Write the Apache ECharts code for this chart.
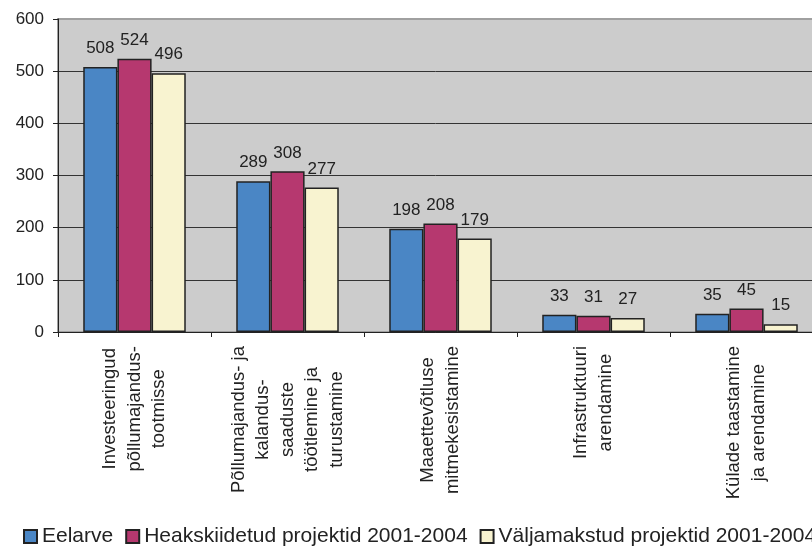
<!DOCTYPE html>
<html>
<head>
<meta charset="utf-8">
<title>Meetmete eelarve ja projektid</title>
<script src="https://cdn.jsdelivr.net/npm/echarts@6/dist/echarts.min.js"></script>
<style>
  html, body { margin: 0; padding: 0; background: #fff; }
  #chart { width: 812px; height: 547px; }
</style>
</head>
<body>
<div id="chart"></div>
<script>
const categories = [
  'Investeeringud\npõllumajandus-\ntootmisse',
  'Põllumajandus- ja\nkalandus-\nsaaduste\ntöötlemine ja\nturustamine',
  'Maaettevõtluse\nmitmekesistamine',
  'Infrastruktuuri\narendamine',
  'Külade taastamine\nja arendamine'
]
const seriesNames = ['Eelarve', 'Heakskiidetud projektid 2001-2004', 'Väljamakstud projektid 2001-2004']
const eelarve = [508, 289, 198, 33, 35]
const heakskiidetud = [524, 308, 208, 31, 45]
const valjamakstud = [496, 277, 179, 27, 15]
const yTicks = [0, 100, 200, 300, 400, 500, 600]

const colors = ['#4a86c5', '#b6386f', '#f8f3d0']
const font = 'Liberation Sans, Arial, sans-serif'

const chart = echarts.init(document.getElementById('chart'))

function barSeries(name, data, idx) {
  return {
    name,
    type: 'bar',
    data,
    barGap: '0%',
    barCategoryGap: '33%',
    itemStyle: {
      color: colors[idx],
      borderColor: '#222',
      borderWidth: 1.5,
    },
    label: {
      show: true,
      position: 'top',
      distance: 10,
      color: '#222',
      fontFamily: font,
      fontSize: 17,
    },
  }
}

chart.setOption({
  animation: false,
  // plot runs past the right edge of the picture (the original is cropped)
  grid: {
    left: 58,
    width: 765,
    top: 19,
    bottom: 215,
    outerBoundsMode: 'none',
    containLabel: false,
    show: true,
    backgroundColor: '#cccccc',
    borderColor: '#a0a0a0',
    borderWidth: 2,
  },
  // legend is cropped too, so let it run wider than the window
  legend: {
    data: seriesNames,
    left: 23,
    top: 526,
    width: 1000,
    padding: 0,
    itemWidth: 13,
    itemHeight: 13,
    itemGap: 12,
    icon: 'rect',
    textStyle: {
      color: '#222',
      fontFamily: font,
      fontSize: 21,
      lineHeight: 20,
    },
  },
  xAxis: {
    type: 'category',
    data: categories,
    axisLine: { lineStyle: { color: '#222', width: 1 } },
    axisTick: { show: true, length: 5, lineStyle: { color: '#222' } },
    axisLabel: {
      interval: 0,
      rotate: 90,
      margin: 14,
      color: '#222',
      fontFamily: font,
      fontSize: 18.5,
      lineHeight: 24.5,
      formatter: (v) => v.split('\n').map((l) => '{c|' + l + '}').join('\n'),
      rich: {
        c: {
          align: 'center',
          fontFamily: font,
          fontSize: 18.5,
          lineHeight: 24.5,
          color: '#222',
        },
      },
    },
  },
  yAxis: {
    type: 'value',
    min: yTicks[0],
    max: yTicks[yTicks.length - 1],
    interval: 100,
    axisLine: { show: true, lineStyle: { color: '#222', width: 1 } },
    axisTick: { show: true, length: 5, lineStyle: { color: '#222' } },
    axisLabel: {
      margin: 14,
      color: '#222',
      fontFamily: font,
      fontSize: 17,
    },
    splitLine: {
      lineStyle: {
        color: ['#333', '#333', '#333', '#333', '#333', '#333', '#a0a0a0'],
        width: 1,
      },
    },
  },
  series: [
    barSeries(seriesNames[0], eelarve, 0),
    barSeries(seriesNames[1], heakskiidetud, 1),
    barSeries(seriesNames[2], valjamakstud, 2),
  ],
})
</script>
</body>
</html>
